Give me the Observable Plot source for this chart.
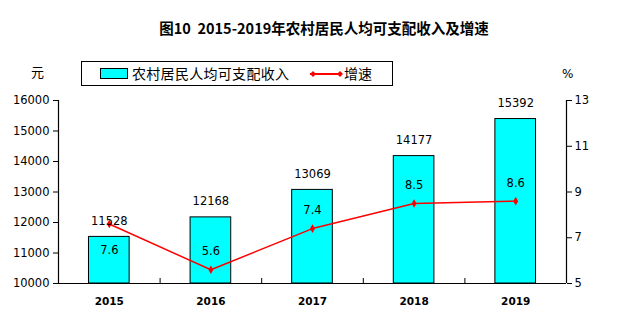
<!DOCTYPE html>
<html>
<head>
<meta charset="utf-8">
<script src="https://cdn.jsdelivr.net/npm/d3@7"></script>
<script src="https://cdn.jsdelivr.net/npm/@observablehq/plot@0.6"></script>
<style>
  html, body { margin: 0; padding: 0; background: #fff; }
  #wrap { position: relative; width: 621px; height: 322px; overflow: hidden; font-family: "DejaVu Sans", sans-serif; }
  #chart { position: absolute; left: 0; top: 0; }
  .title { position: absolute; left: 0; width: 648px; top: 18px; text-align: center; font-family: "Noto Sans CJK SC", sans-serif; font-weight: bold; font-size: 14.5px; line-height: 20px; color: #000; white-space: pre; }
  .unit { position: absolute; font-family: "Noto Sans CJK SC", sans-serif; font-size: 13px; line-height: 16px; }
  .legend { position: absolute; left: 81px; top: 61px; width: 310px; height: 23px; border: 1px solid #000; box-sizing: content-box; font-family: "Noto Sans CJK SC", sans-serif; font-size: 14px; }
  .legend .sw { position: absolute; left: 18px; top: 6px; width: 26px; height: 9px; background: #00FFFF; border: 1px solid #000; }
  .legend .t1 { position: absolute; left: 50px; top: 1px; line-height: 20px; letter-spacing: 0.3px; }
  .legend .ln { position: absolute; left: 228px; top: 11px; width: 30px; height: 2px; background: #FF0000; }
  .legend .t2 { position: absolute; left: 262px; top: 1px; line-height: 20px; }
</style>
</head>
<body>
<div id="wrap">
  <div id="chart"></div>
  <div class="title">图10  2015-2019年农村居民人均可支配收入及增速</div>
  <div class="unit" style="left:31px;top:64px;">元</div>
  <div class="unit" style="left:562px;top:66px;font-family:'DejaVu Sans',sans-serif;font-size:12px;">%</div>
  <div class="legend">
    <div class="sw"></div>
    <div class="t1">农村居民人均可支配收入</div>
    <div class="ln"></div>
    <svg style="position:absolute;left:224px;top:7px" width="40" height="10">
      <path d="M4,5 L7,2 L10,5 L7,8Z" fill="#FF0000"/>
      <path d="M31,5 L34,2 L37,5 L34,8Z" fill="#FF0000"/>
    </svg>
    <div class="t2">增速</div>
  </div>
</div>
<script>
const years = [2015, 2016, 2017, 2018, 2019];
const income = [11528, 12168, 13069, 14177, 15392];
const rate = [7.6, 5.6, 7.4, 8.5, 8.6];
const incomeTicks = [10000, 11000, 12000, 13000, 14000, 15000, 16000];
const rateTicks = [5, 7, 9, 11, 13];

const yMin = 10000, yMax = 16000, rMin = 5, rMax = 13;
const toY = r => yMin + (r - rMin) * (yMax - yMin) / (rMax - rMin);
const toR = y => rMin + (y - yMin) * (rMax - rMin) / (yMax - yMin);

const data = years.map((year, i) => ({year, income: income[i], rate: rate[i]}));
const boundaries = years.slice(1).map(y => y - 0.5);

const chart = Plot.plot({
  width: 621,
  height: 322,
  marginTop: 100,
  marginBottom: 39,
  marginLeft: 58,
  marginRight: 55,
  style: {fontFamily: "DejaVu Sans, sans-serif", fontSize: "11.5px", color: "#000", background: "transparent"},
  x: {type: "linear", domain: [years[0] - 0.5, years[years.length - 1] + 0.5]},
  y: {domain: [yMin, yMax]},
  marks: [
    Plot.rect(data, {x1: d => d.year - 0.2, x2: d => d.year + 0.2, y1: yMin, y2: "income", fill: "#00FFFF", stroke: "#000", strokeWidth: 1}),
    Plot.ruleY([yMin], {stroke: "#000", strokeWidth: 1.2}),
    Plot.ruleX([years[0] - 0.5, years[years.length - 1] + 0.5], {y1: yMin, y2: yMax, stroke: "#000", strokeWidth: 1.2}),
    Plot.ruleX(boundaries, {y1: yMin, y2: yMin, insetTop: -5, stroke: "#000"}),
    Plot.axisY({anchor: "left", ticks: incomeTicks, tickSize: 5, tickPadding: 4, label: null, tickFormat: d => String(d), fontSize: 11.5}),
    Plot.axisY({anchor: "right", ticks: rateTicks.map(toY), tickSize: 5, tickPadding: 3, label: null, tickFormat: v => String(Math.round(toR(v))), fontSize: 11.5}),
    Plot.axisX({ticks: years, tickSize: 0, tickPadding: 14, label: null, tickFormat: d => String(d), fontWeight: "bold", fontSize: 10.5}),
    Plot.line(data, {x: "year", y: d => toY(d.rate), stroke: "#FF0000", strokeWidth: 1.5}),
    Plot.dot(data, {x: "year", y: d => toY(d.rate), symbol: "diamond", r: 2.6, fill: "#FF0000", stroke: "none"}),
    Plot.text(data, {x: "year", y: "income", text: d => String(d.income), dy: -16, fontSize: 11.5, fill: "#000"}),
    Plot.text(data.filter((d, i) => i > 0), {x: "year", y: d => toY(d.rate), text: d => d.rate.toFixed(1), dy: -18, fontSize: 11.5, fill: "#000"}),
    Plot.text(data.filter((d, i) => i === 0), {x: "year", y: d => toY(d.rate), text: d => d.rate.toFixed(1), dy: 26, fontSize: 11.5, fill: "#000"})
  ]
});
document.getElementById("chart").appendChild(chart);
</script>
</body>
</html>
